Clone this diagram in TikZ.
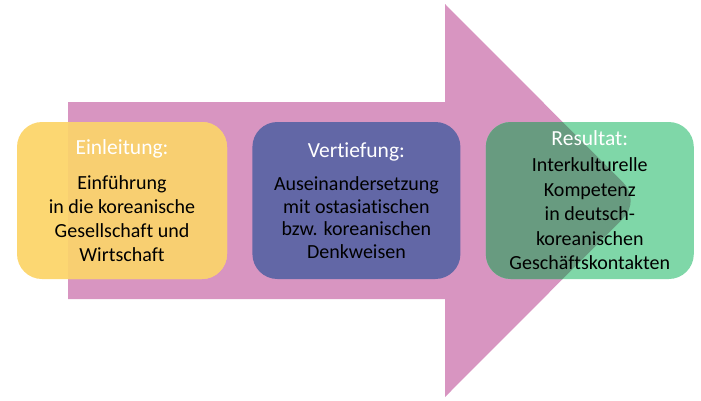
\documentclass[tikz,border=0pt]{standalone}
\usepackage{fontspec}
\setmainfont{Carlito}[Ligatures=NoCommon]
\usetikzlibrary{positioning}
\definecolor{cArrow}{RGB}{216,149,193}
\definecolor{cYellow}{RGB}{252,215,114}
\definecolor{cYellowOn}{RGB}{248,207,113}
\definecolor{cBlue}{RGB}{98,103,166}
\definecolor{cGreen}{RGB}{127,215,168}
\definecolor{cGreenOn}{RGB}{104,155,128}
\newcommand{\steptitle}[1]{{\fontsize{21.5}{24}\selectfont\textcolor{white}{#1}}}

\begin{document}
\begin{tikzpicture}[x=1pt,y=-1pt,
    box/.style={rectangle,rounded corners=25pt,inner sep=0pt,minimum width=208pt,minimum height=157pt,align=center},
    node distance=25pt
  ]
  \useasboundingbox (0,0) rectangle (701,400);
  % the big arrow
  \coordinate (a1) at (68,102);
  \coordinate (a2) at (445,102);
  \coordinate (a3) at (445,4);
  \coordinate (tip) at (641,200.5);
  \coordinate (a5) at (445,397);
  \coordinate (a6) at (445,299);
  \coordinate (a7) at (68,299);
  \fill[cArrow] (a1) -- (a2) -- (a3) -- (tip) -- (a5) -- (a6) -- (a7) -- cycle;
  % the three steps
  \node[box,fill=cYellow,minimum width=210pt,font=\fontsize{20}{24}\selectfont,
    path picture={\fill[cYellowOn] (a1) -- (a2) -- (a3) -- (tip) -- (a5) -- (a6) -- (a7) -- cycle;}]
    (intro) at (122,200.5) {\steptitle{Einleitung:}\\[11pt]Einführung\\in die koreanische\\Gesellschaft und\\Wirtschaft};
  \node[box,fill=cBlue,right=of intro,font=\fontsize{20}{22.5}\selectfont]
    (deep) {\steptitle{Vertiefung:}\\[10.5pt]Auseinandersetzung\\mit ostasiatischen\\bzw. koreanischen\\Denkweisen};
  \node[box,fill=cGreen,right=of deep,font=\fontsize{20}{24.5}\selectfont,
    path picture={\fill[cGreenOn] (a1) -- (a2) -- (a3) -- (tip) -- (a5) -- (a6) -- (a7) -- cycle;}]
    (result) {\steptitle{Resultat:}\\[1.5pt]Interkulturelle\\Kompetenz\\in deutsch-\\koreanischen\\Geschäftskontakten};
\end{tikzpicture}
\end{document}
